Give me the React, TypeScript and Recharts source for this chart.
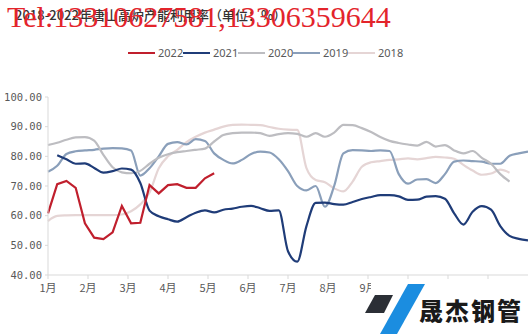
import { LineChart, Line, XAxis, YAxis } from 'recharts'

// weekly capacity utilisation (%), index = week of year
const MONTHS = ['1月', '2月', '3月', '4月', '5月', '6月', '7月', '8月', '9月', '10月', '11月', '12月']
const Y_TICKS = [40, 50, 60, 70, 80, 90, 100]
const WEEKS = 52
// month labels from here on sit under the logo in the source image
const HIDDEN_FROM = 9

const Y2022 = [60.8, 70.6, 71.7, 69.4, 57.4, 52.6, 52.1, 54.4, 63.3, 57.4, 57.6, 70.3, 67.5, 70.3, 70.6, 69.4, 69.4, 72.6, 74.3]

const Y2021 = [null, 80.4, 79.0, 77.5, 77.6, 76.1, 74.5, 75.0, 75.9, 75.5, 71.0, 61.7, 59.8, 58.8, 58.0, 59.5, 61.0, 61.8, 61.1, 62.0, 62.4, 63.0, 63.3, 62.5, 61.6, 61.8, 48.0, 44.5, 56.5, 64.3, 64.4, 63.9, 63.7, 64.6, 65.6, 66.3, 66.9, 66.9, 66.5, 65.3, 65.4, 66.4, 66.6, 65.7, 60.8, 57.0, 61.3, 63.2, 62.0, 56.5, 53.2, 52.2, 51.7]

const Y2020 = [83.8, 84.6, 85.6, 86.4, 86.5, 85.3, 80.5, 76.3, 74.6, 74.3, 75.1, 77.5, 79.5, 80.7, 81.4, 81.8, 82.2, 82.6, 85.0, 87.2, 87.8, 88.0, 88.0, 87.8, 86.9, 87.5, 87.8, 87.6, 86.6, 87.8, 86.6, 88.0, 90.6, 90.5, 89.5, 88.2, 86.5, 85.2, 84.5, 84.0, 83.6, 84.9, 83.3, 83.8, 82.0, 81.0, 81.8, 79.5, 77.5, 74.0, 71.5]

const Y2019 = [74.8, 76.8, 80.8, 81.7, 82.0, 82.2, 82.6, 82.8, 82.7, 82.0, 73.5, 76.0, 80.0, 84.2, 84.8, 84.0, 85.8, 85.2, 81.0, 78.8, 77.6, 78.8, 80.8, 81.6, 81.3, 79.0, 75.0, 70.0, 68.5, 70.0, 63.0, 70.0, 81.0, 82.1, 82.0, 81.8, 82.0, 81.8, 74.0, 70.8, 72.2, 72.3, 71.0, 74.0, 78.2, 78.6, 78.4, 78.2, 77.5, 77.5, 80.2, 81.0, 81.6]

const Y2018 = [58.2, 59.9, 60.1, 60.2, 60.2, 60.2, 60.2, 60.2, 60.4, 61.5, 63.8, 67.8, 76.0, 80.0, 82.2, 84.8, 86.6, 88.0, 89.0, 90.0, 90.6, 90.7, 90.6, 90.5, 89.9, 89.3, 89.0, 88.9, 76.0, 72.0, 71.3, 69.2, 68.2, 71.5, 76.5, 78.0, 78.4, 78.8, 79.0, 79.3, 79.0, 79.4, 79.8, 79.6, 79.2, 77.1, 75.2, 73.8, 74.2, 75.5, 74.5]

// legend order
const SERIES = [
  { key: 'y2022', name: '2022', color: '#c01f2d', values: Y2022, type: 'linear' },
  { key: 'y2021', name: '2021', color: '#1f3c78', values: Y2021, type: 'monotone' },
  { key: 'y2020', name: '2020', color: '#bdbdc1', values: Y2020, type: 'monotone' },
  { key: 'y2019', name: '2019', color: '#8a9fba', values: Y2019, type: 'monotone' },
  { key: 'y2018', name: '2018', color: '#e5d5d5', values: Y2018, type: 'monotone' },
]

const data = Array.from({ length: WEEKS + 1 }, (_, w) => {
  const row: any = { w }
  SERIES.forEach(s => { row[s.key] = s.values[w] ?? null })
  return row
})

const monthTicks = MONTHS.map((_, i) => (i * WEEKS) / 12)

const AXIS = '#d9d9d9'
const LABEL = '#595959'

function Overlay() {
  return (
    <svg width={528} height={334} style={{ position: 'absolute', left: 0, top: 0, pointerEvents: 'none' }}>
      {/* title */}
      <text x={15} y={20} fontSize={13} fontWeight={500} fill="#333" fontFamily="'Noto Sans CJK SC', sans-serif">
        2018-2022年唐山高炉产能利用率（单位：%）
      </text>
      {/* watermark */}
      <text x={7} y={27} fontSize={30} fill="#e3242b" fontFamily="'Liberation Serif', serif">
        Tel:13310627581,13306359644
      </text>

      {/* legend */}
      {SERIES.map((s, i) => {
        const x0 = 128 + i * 55
        return (
          <g key={s.key}>
            <line x1={x0} x2={x0 + 27} y1={53} y2={53} stroke={s.color} strokeWidth={2} />
            <text x={x0 + 30} y={57} fontSize={11} fill={LABEL} fontFamily="'Noto Sans', sans-serif">{s.name}</text>
          </g>
        )
      })}

      {/* logo */}
      <rect x={371} y={282} width={157} height={52} fill="#fff" />
      <polygon points="375,295 393,295 384,313 365,313" fill="#2b2f36" />
      <polygon points="408,284 425,284 397,334 380,334" fill="#1b8de0" />
      <text x={419} y={320} fontSize={24} fontWeight={900} letterSpacing={2} fill="#1a1a1a" fontFamily="'Noto Sans CJK SC', sans-serif">
        晟杰钢管
      </text>
    </svg>
  )
}

export default function App() {
  return (
    <div style={{ position: 'absolute', left: 0, top: 0, width: 528, height: 334, background: '#fff' }}>
      <LineChart width={528} height={334} data={data} margin={{ top: 97, right: 0, bottom: 29, left: 0 }}>
        <XAxis
          type="number"
          dataKey="w"
          domain={[0, WEEKS]}
          ticks={monthTicks}
          interval={0}
          height={30}
          tickSize={4}
          tickMargin={5}
          stroke={AXIS}
          tick={{ fill: LABEL, fontSize: 11, fontFamily: "'Noto Sans CJK SC', sans-serif" }}
          tickFormatter={(v: number) => {
            const i = Math.round((v * 12) / WEEKS)
            return i < HIDDEN_FROM ? MONTHS[i] : ''
          }}
        />
        <YAxis
          type="number"
          domain={[40, 100]}
          ticks={Y_TICKS}
          interval={0}
          width={48}
          tickSize={3}
          tickMargin={3}
          stroke={AXIS}
          tick={{ fill: LABEL, fontSize: 10.5, fontFamily: "'DejaVu Sans Mono', monospace" }}
          tickFormatter={(v: number) => v.toFixed(2)}
        />
        {[...SERIES].reverse().map(s => (
          <Line
            key={s.key}
            dataKey={s.key}
            type={s.type as any}
            stroke={s.color}
            strokeWidth={2.2}
            dot={false}
            activeDot={false}
            isAnimationActive={false}
          />
        ))}
      </LineChart>
      <Overlay />
    </div>
  )
}
